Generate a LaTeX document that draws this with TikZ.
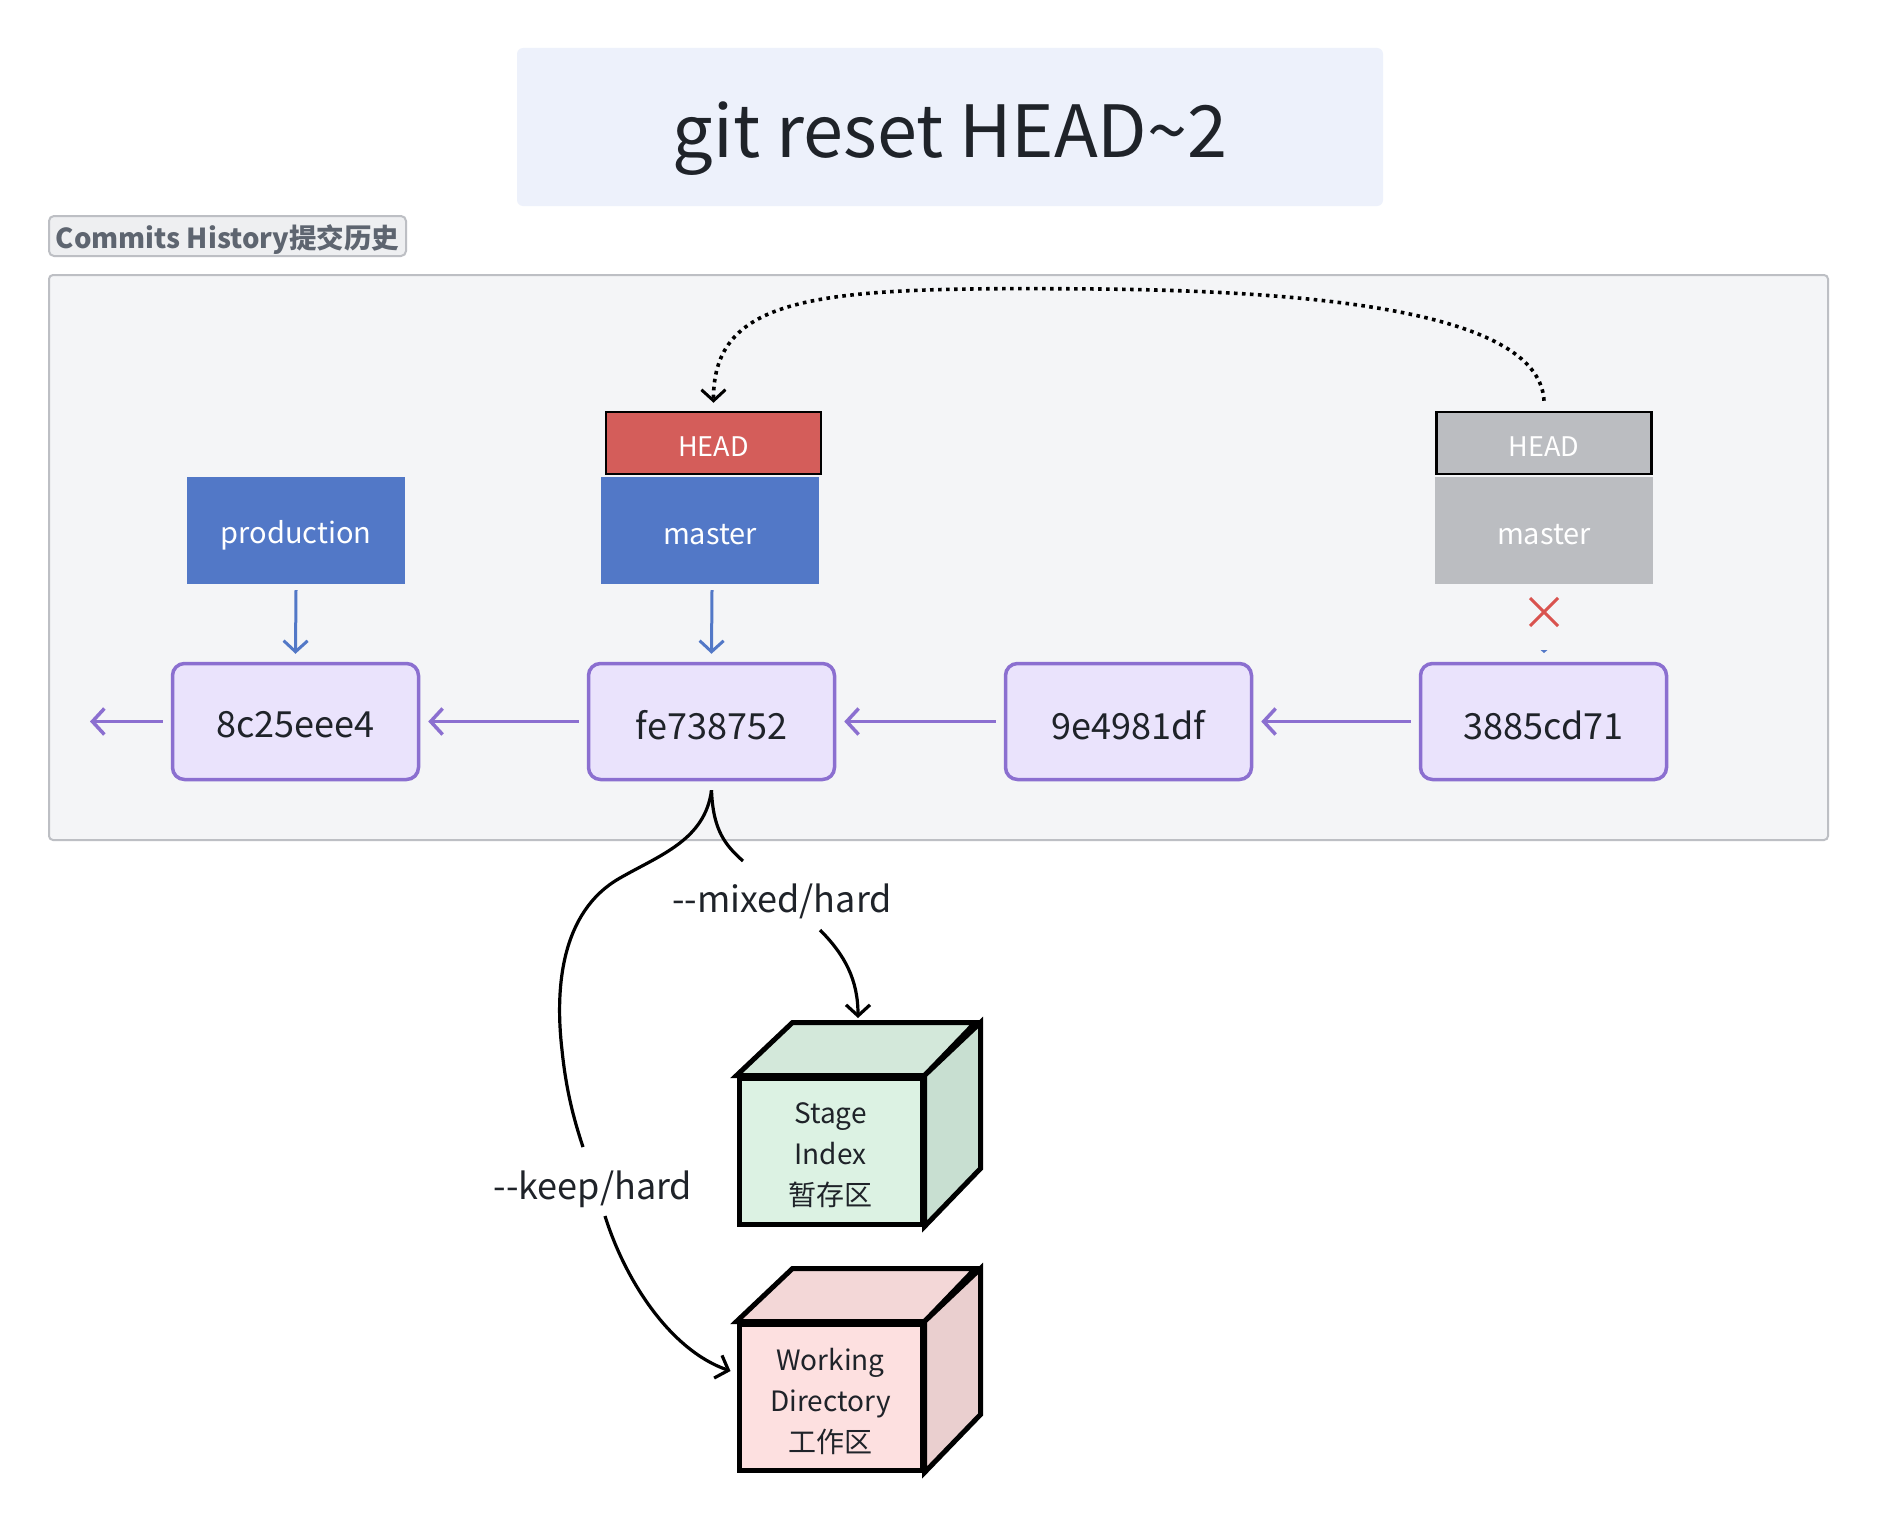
\documentclass[tikz,border=0pt]{standalone}
\usepackage{fontspec}
\setmainfont{Noto Sans CJK SC}
\usetikzlibrary{arrows.meta,calc}
\definecolor{ink}{HTML}{1F2329}
\definecolor{cpurple}{HTML}{8B6FD0}
\definecolor{clav}{HTML}{EAE3FC}
\definecolor{cblue}{HTML}{5278C7}
\definecolor{cred}{HTML}{D45D5A}
\definecolor{cgrey}{HTML}{BBBDC1}
\definecolor{panelfill}{HTML}{F4F5F7}
\definecolor{panelline}{HTML}{BDBFC4}
\definecolor{titlefill}{HTML}{EDF1FB}
\definecolor{tagfill}{HTML}{EEEFF1}
\definecolor{tagtext}{HTML}{5E6570}
\definecolor{gfront}{HTML}{DCF2E3}
\definecolor{gtop}{HTML}{D3E8DA}
\definecolor{gside}{HTML}{C8DFD1}
\definecolor{pfront}{HTML}{FDE0E0}
\definecolor{ptop}{HTML}{F3D7D7}
\definecolor{pside}{HTML}{EACFCF}
\definecolor{xred}{HTML}{D9534F}
\tikzset{
  commit/.style={draw=cpurple, fill=clav, line width=3.5pt, rounded corners=12pt,
    minimum width=246pt, minimum height=116pt, inner sep=0pt},
  ctext/.style={text=ink, inner sep=0pt, font=\fontsize{36}{40}\selectfont},
  branch/.style={minimum width=218pt, minimum height=107pt, inner sep=0pt},
  btext/.style={text=white, inner sep=0pt, font=\fontsize{29}{34}\selectfont},
  headbox/.style={minimum width=215pt, minimum height=62pt, inner sep=0pt,
    draw=black, line width=2.5pt},
  htext/.style={text=white, inner sep=0pt, font=\fontsize{27}{32}\selectfont},
  parr/.style={draw=cpurple, line width=3.5pt,
    -{Straight Barb[length=12pt,width=26pt]}},
  barr/.style={draw=cblue, line width=3pt,
    -{Straight Barb[length=11pt,width=24pt]}},
  karr/.style={draw=black, line width=3.2pt,
    -{Straight Barb[length=11pt,width=24pt]}},
  kline/.style={draw=black, line width=3.2pt},
  front/.style={draw=black, line width=5pt, minimum width=183pt,
    minimum height=146pt, inner sep=0pt},
  cubetext/.style={align=center, text=ink, inner sep=0pt,
    font=\fontsize{28}{41}\selectfont},
  face/.style={draw=black, line width=5pt, line join=miter},
  lbl/.style={text=ink, font=\fontsize{36}{42}\selectfont, inner sep=0pt}
}
\begin{document}
\begin{tikzpicture}[x=1pt,y=-1pt]
\useasboundingbox (0,0) rectangle (1878,1520);
\fill[white] (0,0) rectangle (1878,1520);

% title
\node[fill=titlefill, rounded corners=6pt, minimum width=866pt, minimum height=158pt,
  inner sep=0pt] (title) at (950,127) {};
\node[text=ink, inner sep=0pt, font=\fontsize{72}{80}\selectfont] (titletxt)
  at ($(title.center)+(0,12)$) {git reset HEAD\char"007E 2};

% tag
\node[fill=tagfill, draw=panelline, line width=2pt, rounded corners=5pt,
  minimum width=357pt, minimum height=40pt, inner sep=0pt] (tag) at (227.5,236) {};
\node[text=tagtext, inner sep=0pt, font=\bfseries\fontsize{27.5}{30}\selectfont] (tagtxt)
  at ($(tag.center)+(0,3.5)$) {Commits History提交历史};

% panel
\node[fill=panelfill, draw=panelline, line width=2pt, rounded corners=4pt,
  minimum width=1779pt, minimum height=565pt, inner sep=0pt] (panel) at (938.5,557.5) {};

% commits
\node[commit] (c1) at (295.5,721.5) {};
\node[commit] (c2) at (711.5,721.5) {};
\node[commit] (c3) at (1128.5,721.5) {};
\node[commit] (c4) at (1543.5,721.5) {};
\node[ctext] (t1) at ($(c1.center)+(0,3.5)$) {8c25eee4};
\node[ctext] (t2) at ($(c2.center)+(0,3.5)$) {fe738752};
\node[ctext] (t3) at ($(c3.center)+(0,3.5)$) {9e4981df};
\node[ctext] (t4) at ($(c4.center)+(0,3.5)$) {3885cd71};
\coordinate (tail) at (90,721.5);

\draw[parr] ($(c1.west)+(-8,0)$) -- (tail);
\draw[parr] ($(c2.west)+(-8,0)$) -- ($(c1.east)+(8,0)$);
\draw[parr] ($(c3.west)+(-8,0)$) -- ($(c2.east)+(8,0)$);
\draw[parr] ($(c4.west)+(-8,0)$) -- ($(c3.east)+(8,0)$);

% branches
\node[branch, fill=cblue] (prod) at (296,530.5) {};
\node[branch, fill=cblue] (master) at (710,530.5) {};
\node[headbox, fill=cred] (head) at (713.5,443) {};
\node[branch, fill=cgrey] (gmaster) at (1544,530.5) {};
\node[headbox, fill=cgrey] (ghead) at (1544,443) {};
\node[btext] (prodtxt) at ($(prod.center)+(0,5)$) {production};
\node[btext] (mastertxt) at ($(master.center)+(0,4)$) {master};
\node[htext] (headtxt) at ($(head.center)+(0,3.5)$) {HEAD};
\node[btext] (gmastertxt) at ($(gmaster.center)+(0,4)$) {master};
\node[htext] (gheadtxt) at ($(ghead.center)+(0,3.5)$) {HEAD};

\draw[barr] ($(prod.south)+(0,6)$) -- ($(c1.north)+(0,-8)$);
\draw[barr] ($(master.south |- prod.south)+(2,6)$) -- ($(c2.north)+(0,-8)$);

% removed link
\draw[xred, line width=3pt] (1530,598) -- (1558,626) (1558,598) -- (1530,626);
\fill[cblue] (1540.5,650) -- (1547.5,650) -- (1544,653) -- cycle;

% dotted move of HEAD
\draw[black, line width=3.6pt, dash pattern=on 3.6pt off 4.4pt,
  -{Straight Barb[length=11pt,width=24pt,line width=3pt]}]
  ($(ghead.north)+(0,-10)$) .. controls (1540,330) and (1400,292) .. (1100,289)
  .. controls (830,287) and (713,290) .. ($(head.north)+(0,-8)$);

% cubes
\node[front, fill=gfront] (stage) at (830.5,1151) {};
\filldraw[face, fill=gtop] (stage.north west) -- ++(56,-53) -- ++(183,0) -- (stage.north east) -- cycle;
\filldraw[face, fill=gside] (stage.north east) -- ++(56,-53) -- ++(0,146) -- (stage.south east) -- cycle;
\node[cubetext] (stagetxt) at ($(stage.center)+(0,4)$) {Stage\\Index\\暂存区};

\node[front, fill=pfront] (work) at (830.5,1397) {};
\filldraw[face, fill=ptop] (work.north west) -- ++(56,-53) -- ++(183,0) -- (work.north east) -- cycle;
\filldraw[face, fill=pside] (work.north east) -- ++(56,-53) -- ++(0,146) -- (work.south east) -- cycle;
\node[cubetext] (worktxt) at ($(work.center)+(0,4)$) {Working\\Directory\\工作区};

% reset arrows
\coordinate (cusp) at ($(c2.south)+(0,9)$);
\node[lbl] (mixed) at (782,901) {-{}-mixed/hard};
\node[lbl] (keep) at (593,1189) {-{}-keep/hard};
\draw[kline] (cusp) .. controls (713,830) and (725,845) .. (743,861);
\draw[karr] (820,930) .. controls (845,955) and (858,980) .. (858,1018);
\draw[kline] (cusp) .. controls (705,840) and (660,855) .. (620,878)
  .. controls (560,912) and (555,990) .. (562,1050)
  .. controls (566,1090) and (574,1120) .. (583,1147);
\draw[karr] (605,1216) .. controls (625,1280) and (670,1350) .. ($(work.west)+(-6,-26)$);
\end{tikzpicture}
\end{document}
